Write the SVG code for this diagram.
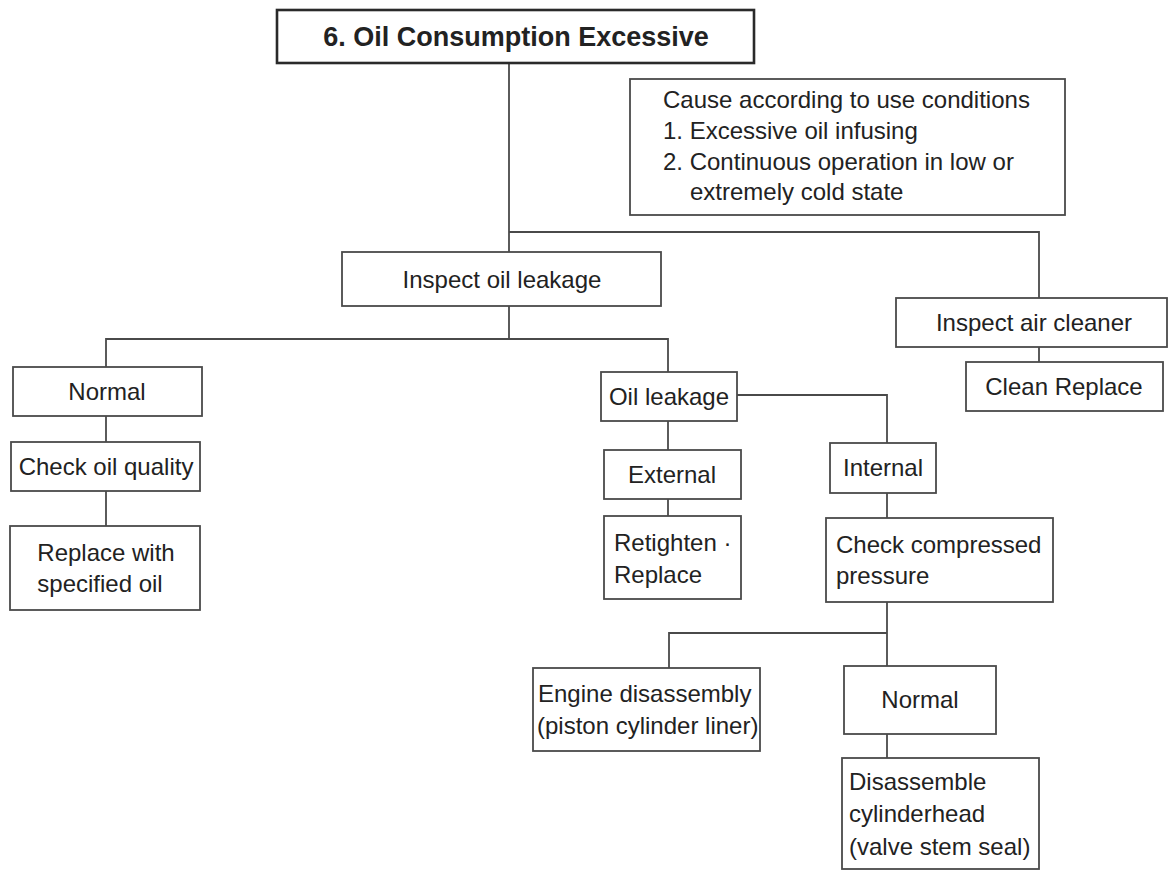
<svg xmlns="http://www.w3.org/2000/svg" width="1169" height="871" viewBox="0 0 1169 871">
<style>
  .box { fill: #ffffff; stroke: #4a4a4a; stroke-width: 1.8; }
  .title { fill: #ffffff; stroke: #2a2a2a; stroke-width: 2.6; }
  .t { font-family: "Liberation Sans", Arial, Helvetica, sans-serif; font-size: 24px; fill: #222222; }
  .c { text-anchor: middle; }
  .tb { font-family: "Liberation Sans", Arial, Helvetica, sans-serif; font-size: 27px; font-weight: bold; fill: #222222; text-anchor: middle; }
  .conn { fill: none; stroke: #4a4a4a; stroke-width: 1.8; }
</style>
<rect width="1169" height="871" fill="#ffffff"/>
<g id="connectors">
  <path class="conn" d="M509 63 V252"/>
  <path class="conn" d="M509 232 H1039 V298"/>
  <path class="conn" d="M1039 347 V362"/>
  <path class="conn" d="M509 306 V339"/>
  <path class="conn" d="M106 367 V339 H668 V372"/>
  <path class="conn" d="M106 416 V442"/>
  <path class="conn" d="M106 491 V526"/>
  <path class="conn" d="M668 421 V450"/>
  <path class="conn" d="M668 499 V516"/>
  <path class="conn" d="M737 395 H887 V443"/>
  <path class="conn" d="M887 493 V518"/>
  <path class="conn" d="M887 602 V666"/>
  <path class="conn" d="M669 668 V633 H887"/>
  <path class="conn" d="M887 734 V758"/>
</g>
<g id="n-title">
  <rect class="title" x="277" y="10" width="477" height="53"/>
  <text class="tb" x="516" y="46">6. Oil Consumption Excessive</text>
</g>
<g id="n-cause">
  <rect class="box" x="630" y="79" width="435" height="136"/>
  <text class="t" x="663" y="108">Cause according to use conditions</text>
  <text class="t" x="663" y="139">1. Excessive oil infusing</text>
  <text class="t" x="663" y="170">2. Continuous operation in low or</text>
  <text class="t" x="690" y="200">extremely cold state</text>
</g>
<g id="n-inspect-oil">
  <rect class="box" x="342" y="252" width="319" height="54"/>
  <text class="t c" x="502" y="288">Inspect oil leakage</text>
</g>
<g id="n-inspect-air">
  <rect class="box" x="896" y="298" width="271" height="49"/>
  <text class="t c" x="1034" y="331">Inspect air cleaner</text>
</g>
<g id="n-clean">
  <rect class="box" x="966" y="362" width="197" height="49"/>
  <text class="t c" x="1064" y="395">Clean Replace</text>
</g>
<g id="n-normal1">
  <rect class="box" x="13" y="367" width="189" height="49"/>
  <text class="t c" x="107" y="400">Normal</text>
</g>
<g id="n-check-oil">
  <rect class="box" x="11" y="442" width="189" height="49"/>
  <text class="t c" x="106" y="475">Check oil quality</text>
</g>
<g id="n-replace-oil">
  <rect class="box" x="10" y="526" width="190" height="84"/>
  <text class="t c" x="106" y="561">Replace with</text>
  <text class="t c" x="100" y="592">specified oil</text>
</g>
<g id="n-oil-leakage">
  <rect class="box" x="601" y="372" width="136" height="49"/>
  <text class="t c" x="669" y="405">Oil leakage</text>
</g>
<g id="n-external">
  <rect class="box" x="604" y="450" width="137" height="49"/>
  <text class="t c" x="672" y="483">External</text>
</g>
<g id="n-retighten">
  <rect class="box" x="604" y="516" width="137" height="83"/>
  <text class="t" x="614" y="551">Retighten ·</text>
  <text class="t" x="614" y="583">Replace</text>
</g>
<g id="n-internal">
  <rect class="box" x="830" y="443" width="106" height="50"/>
  <text class="t c" x="883" y="476">Internal</text>
</g>
<g id="n-check-comp">
  <rect class="box" x="826" y="518" width="227" height="84"/>
  <text class="t" x="836" y="553">Check compressed</text>
  <text class="t" x="836" y="584">pressure</text>
</g>
<g id="n-engine">
  <rect class="box" x="533" y="668" width="227" height="83"/>
  <text class="t" x="538" y="702">Engine disassembly</text>
  <text class="t" x="537" y="734">(piston cylinder liner)</text>
</g>
<g id="n-normal2">
  <rect class="box" x="844" y="666" width="152" height="68"/>
  <text class="t c" x="920" y="708">Normal</text>
</g>
<g id="n-disassemble">
  <rect class="box" x="842" y="758" width="197" height="111"/>
  <text class="t" x="849" y="790">Disassemble</text>
  <text class="t" x="849" y="822">cylinderhead</text>
  <text class="t" x="849" y="855">(valve stem seal)</text>
</g>
</svg>
